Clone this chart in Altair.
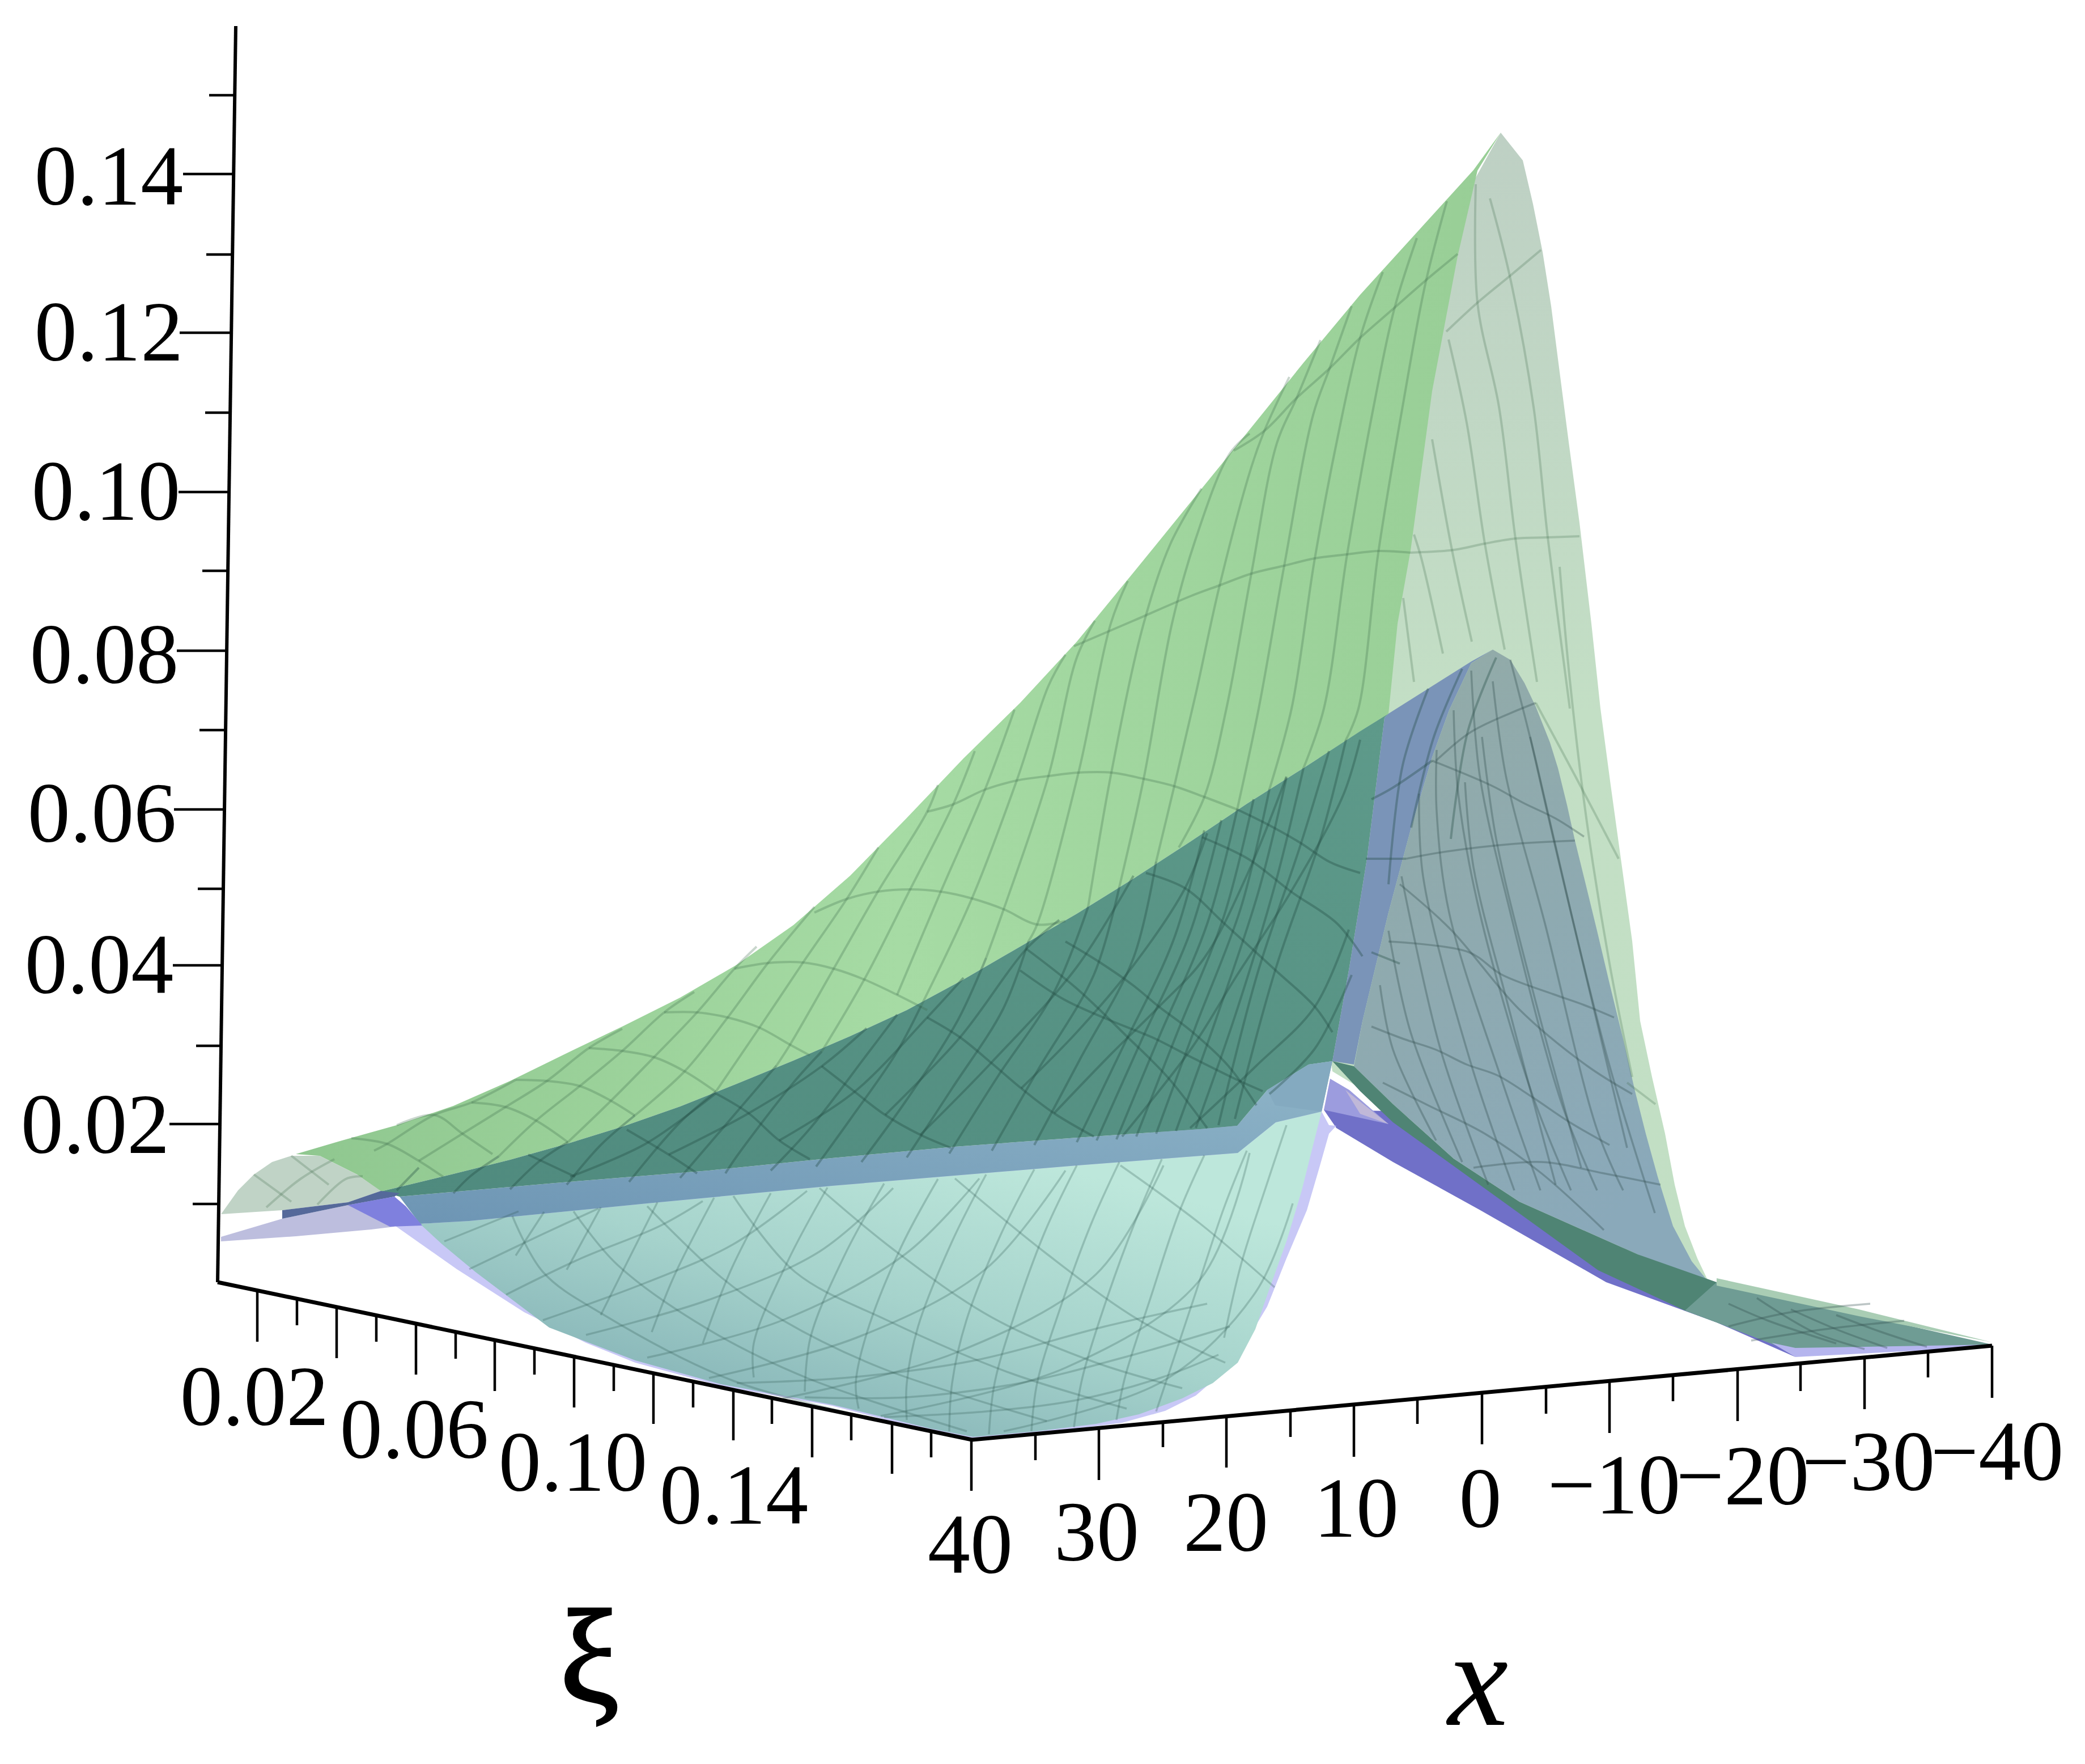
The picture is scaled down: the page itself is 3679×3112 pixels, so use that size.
import altair as alt
import pandas as pd

# ---------- axes (in picture units) ----------
z_axis = [(416, 46), (384, 2262)]
xi_axis = [(384, 2262), (1715, 2540)]
x_axis = [(1715, 2540), (3515, 2374)]

z_ticks = [(369, 413, 168), (323, 412, 307), (364, 410, 449), (317, 407, 587), (362, 405, 728),
           (315, 404, 868), (357, 402, 1007), (312, 400, 1148), (352, 399, 1288), (307, 397, 1428),
           (349, 395, 1568), (305, 393, 1703), (346, 390, 1845), (299, 389, 1983), (340, 386, 2124)]
xi_ticks = [(454, 2277, 2367), (524, 2291, 2338), (594, 2306, 2396), (664, 2320, 2367), (734, 2335, 2425),
            (804, 2350, 2397), (873, 2364, 2454), (943, 2379, 2425), (1013, 2393, 2483), (1083, 2408, 2454),
            (1153, 2423, 2512), (1223, 2437, 2483), (1294, 2452, 2541), (1362, 2466, 2512), (1433, 2481, 2571),
            (1502, 2496, 2541), (1574, 2511, 2600), (1643, 2525, 2571), (1714, 2540, 2630)]
x_ticks = [(1827, 2530, 2576), (1939, 2519, 2611), (2052, 2509, 2553), (2164, 2499, 2589), (2277, 2488, 2535),
           (2389, 2478, 2570), (2501, 2468, 2512), (2615, 2457, 2548), (2728, 2447, 2494), (2840, 2436, 2528),
           (2952, 2426, 2472), (3066, 2415, 2507), (3177, 2405, 2454), (3290, 2395, 2486), (3402, 2385, 2430),
           (3515, 2374, 2466)]

z_labels = [("0.14", 192, 361), ("0.12", 192, 636), ("0.10", 187, 917), ("0.08", 184, 1205),
            ("0.06", 180, 1485), ("0.04", 175, 1752), ("0.02", 168, 2034)]
xi_labels = [("0.02", 449, 2514), ("0.06", 731, 2572), ("0.10", 1011, 2630), ("0.14", 1295, 2688)]
x_labels = [("40", 1712, 2775), ("30", 1935, 2753), ("20", 2163, 2736), ("10", 2393, 2711), ("0", 2612, 2694),
            ("\u221210", 2848, 2670), ("\u221220", 3075, 2654), ("\u221230", 3297, 2629), ("\u221240", 3524, 2611)]
xi_title = [("\u03be", 1040, 3002)]
x_title = [("x", 2608, 3043)]

# ---------- surface regions ----------
upper_edge = [(522, 2036), (600, 2013), (700, 1985), (800, 1951), (900, 1907), (1000, 1858), (1100, 1810), (1200, 1760),
              (1300, 1702), (1400, 1632), (1500, 1545), (1600, 1443), (1700, 1338), (1800, 1240), (1900, 1132),
              (2000, 1010), (2100, 887), (2200, 764), (2300, 640), (2400, 520), (2500, 410), (2600, 300), (2648, 234)]
fold_edge = [(2607, 301), (2572, 452), (2527, 690), (2489, 971), (2466, 1100), (2450, 1259)]
dark_top = [(2450, 1259), (2400, 1290), (2300, 1355), (2200, 1418), (2100, 1485), (2000, 1550), (1900, 1612), (1800, 1670),
            (1700, 1728), (1600, 1782), (1500, 1828), (1400, 1871), (1300, 1912), (1200, 1952), (1100, 1987),
            (1000, 2018), (900, 2046), (800, 2071), (672, 2102)]
pale_green = [(2648, 234), (2687, 283), (2705, 360), (2722, 445), (2737, 540), (2750, 641), (2768, 780), (2787, 922),
              (2808, 1100), (2824, 1250), (2842, 1385), (2860, 1515), (2880, 1660), (2894, 1801), (2915, 1900),
              (2938, 2000), (2955, 2090), (2973, 2163), (2995, 2220), (3015, 2262), (3042, 2280), (3010, 2290),
              (2351, 1890), (2300, 1500), (2400, 900), (2500, 500)]
sat_green = upper_edge + fold_edge + dark_top + [(630, 2072), (564, 2039)]
pale_left = [(390, 2142), (420, 2100), (448, 2072), (480, 2050), (514, 2039), (564, 2039), (630, 2072), (672, 2101),
             (614, 2121), (498, 2135)]
lav_left = [(390, 2190), (390, 2182), (498, 2150), (614, 2126), (688, 2111), (696, 2164), (655, 2169), (522, 2181)]
purple_left = [(614, 2126), (696, 2111), (716, 2128), (745, 2162), (688, 2164)]
dark_band_left = [(498, 2135), (614, 2121), (672, 2101), (705, 2105), (696, 2111), (614, 2126), (498, 2150)]
lavender = [(698, 2163), (740, 2160), (2332, 1961), (2345, 1985), (2358, 1986), (2345, 2000), (2328, 2060), (2306, 2135),
            (2270, 2220), (2236, 2305), (2200, 2365), (2153, 2425), (2110, 2462), (2056, 2489), (1980, 2510),
            (1902, 2520), (1820, 2528), (1717, 2538), (1641, 2525), (1468, 2480), (1272, 2445), (1121, 2404),
            (1034, 2369), (925, 2315), (806, 2239)]
light_teal = [(741, 2159), (828, 2154), (1142, 2123), (1468, 2092), (1901, 2056), (2184, 2034), (2251, 1980),
              (2332, 1961), (2312, 2040), (2297, 2100), (2270, 2190), (2238, 2279), (2215, 2345), (2184, 2404),
              (2140, 2440), (2086, 2467), (2010, 2495), (1934, 2512), (1830, 2525), (1717, 2535), (1641, 2520),
              (1468, 2478), (1272, 2442), (1121, 2400), (969, 2342), (839, 2244), (780, 2195)]
blue_strip = [(705, 2111), (980, 2087), (1251, 2065), (1468, 2043), (1685, 2023), (1901, 2007), (2118, 1992),
              (2183, 1986), (2236, 1923), (2309, 1878), (2351, 1872), (2332, 1961), (2251, 1980), (2184, 2034),
              (1901, 2056), (1468, 2092), (1142, 2123), (828, 2154), (741, 2159)]
dark_teal = dark_top[::-1] + [(2443, 1266), (2412, 1515), (2381, 1706), (2351, 1872), (2309, 1878), (2236, 1923),
                              (2183, 1986), (2118, 1992), (1901, 2007), (1685, 2023), (1468, 2043), (1251, 2065),
                              (980, 2087), (705, 2111)]
blue_band = [(2450, 1259), (2596, 1167), (2634, 1146), (2596, 1170), (2557, 1253), (2527, 1336), (2489, 1464),
             (2450, 1610), (2404, 1802), (2389, 1878), (2351, 1872), (2381, 1706), (2412, 1515), (2443, 1266)]
gray_teal = [(2634, 1146), (2665, 1164), (2690, 1205), (2710, 1247), (2735, 1310), (2749, 1355), (2765, 1420), (2779, 1483),
             (2798, 1560), (2818, 1642), (2840, 1735), (2864, 1833), (2885, 1925), (2904, 2000), (2925, 2076),
             (2952, 2163), (2985, 2225), (3015, 2262), (3029, 2270), (2890, 2213), (2681, 2120), (2565, 2044),
             (2458, 1948), (2389, 1881), (2404, 1802), (2450, 1610), (2489, 1464), (2527, 1336), (2557, 1253),
             (2596, 1170)]
tail_purple = [(2336, 1958), (2450, 1960), (2565, 2045), (2680, 2125), (2820, 2225), (2973, 2300), (3126, 2360),
               (3168, 2394), (3029, 2333), (2834, 2262), (2612, 2135), (2458, 2050), (2358, 1990)]
tail_mid = [(2347, 1903), (2381, 1923), (2450, 1983), (2336, 1958)]
tail_pale = [(2374, 1923), (2450, 1983), (2400, 1965)]
tail_green = [(2351, 1872), (2389, 1881), (2458, 1948), (2565, 2044), (2681, 2120), (2890, 2213), (3029, 2262),
              (3060, 2300), (3126, 2369), (2973, 2312), (2820, 2241), (2680, 2140), (2565, 2057), (2458, 1980),
              (2400, 1925)]
tail_flat = [(3029, 2262), (3515, 2372), (3168, 2387), (3029, 2333), (2973, 2312)]
tail_lav = [(3126, 2369), (3168, 2378), (3515, 2372), (3515, 2376), (3168, 2394)]
tail_rim = [(3029, 2255), (3280, 2310), (3515, 2368), (3280, 2322), (3029, 2268)]
triangle_top = [(2309, 1878), (2351, 1872), (2332, 1961), (2250, 1950), (2236, 1923)]

# ---------- mesh lines ----------
mesh_green = [
    [(1895, 1140), (2000, 1095), (2100, 1052), (2151, 1033), (2208, 1012), (2266, 998), (2320, 985), (2377, 978), (2432, 972), (2489, 975)],
    [(1636, 1432), (1682, 1419), (1738, 1393), (1794, 1377), (1850, 1369), (1903, 1363), (1961, 1363), (2018, 1374), (2072, 1387), (2125, 1406), (2183, 1428)],
    [(1437, 1610), (1494, 1586), (1549, 1573), (1606, 1569), (1660, 1573), (1715, 1585), (1771, 1604), (1830, 1631), (1880, 1625)],
    [(1296, 1709), (1355, 1699), (1417, 1698), (1471, 1709), (1525, 1728), (1583, 1755), (1636, 1782)],
    [(1172, 1786), (1230, 1786), (1284, 1795), (1340, 1813), (1394, 1843), (1429, 1862)],
    [(1039, 1849), (1098, 1854), (1154, 1865), (1208, 1890), (1263, 1926)],
    [(910, 1905), (965, 1907), (1023, 1916), (1078, 1942), (1120, 1968)],
    [(832, 1945), (892, 1953), (946, 1977), (1002, 2015)],
    [(700, 1985), (766, 1967), (816, 2000), (869, 2036)],
    [(620, 2008), (683, 2018), (739, 2048), (782, 2076)],
    [(2177, 795), (2231, 760), (2288, 702), (2346, 650), (2400, 596), (2457, 546), (2513, 497), (2572, 448)],
    [(2375, 1305), (2397, 1250), (2432, 975), (2476, 711), (2515, 501), (2553, 355)],
    [(2300, 1355), (2336, 1250), (2377, 978), (2425, 711), (2460, 546), (2500, 420)],
    [(2240, 1392), (2279, 1250), (2320, 985), (2361, 768), (2400, 596), (2440, 480)],
    [(2183, 1428), (2221, 1250), (2266, 998), (2317, 732), (2346, 650), (2385, 540)],
    [(2080, 1495), (2125, 1406), (2164, 1250), (2208, 1012), (2253, 782), (2288, 702), (2330, 600)],
    [(2040, 1520), (2072, 1387), (2110, 1224), (2152, 1033), (2208, 824), (2231, 760), (2275, 665)],
    [(1975, 1565), (2018, 1374), (2068, 1100), (2110, 950), (2170, 800), (2205, 765)],
    [(1920, 1600), (1961, 1363), (2018, 1100), (2065, 960), (2120, 862)],
    [(1815, 1660), (1830, 1631), (1903, 1363), (1960, 1100), (1990, 1025)],
    [(1740, 1690), (1771, 1604), (1850, 1369), (1900, 1160), (1932, 1095)],
    [(1625, 1775), (1715, 1585), (1794, 1377), (1850, 1210), (1880, 1155)],
    [(1583, 1755), (1660, 1573), (1738, 1393), (1790, 1252)],
    [(1450, 1855), (1525, 1728), (1606, 1569), (1682, 1419), (1720, 1325)],
    [(1370, 1880), (1394, 1843), (1471, 1709), (1549, 1573), (1636, 1432), (1655, 1385)],
    [(1263, 1926), (1340, 1813), (1417, 1698), (1494, 1586), (1550, 1495)],
    [(1120, 1968), (1208, 1890), (1284, 1795), (1355, 1699), (1437, 1600)],
    [(1002, 2015), (1078, 1942), (1154, 1865), (1230, 1786), (1296, 1709), (1335, 1670)],
    [(880, 2040), (946, 1977), (1023, 1916), (1098, 1854), (1172, 1786), (1225, 1750)],
    [(739, 2048), (816, 2000), (892, 1953), (965, 1907), (1039, 1849), (1098, 1815)],
    [(660, 2030), (683, 2018), (766, 1967), (832, 1945), (910, 1905)],
]
mesh_pale = [
    [(2489, 975), (2566, 970), (2620, 959), (2674, 950), (2731, 948), (2787, 946)],
    [(2552, 585), (2607, 534), (2664, 487), (2719, 441)],
    [(2629, 350), (2664, 487), (2706, 718), (2731, 948), (2770, 1250)],
    [(2604, 325), (2607, 534), (2645, 718), (2674, 950), (2712, 1203)],
    [(2556, 599), (2588, 746), (2620, 959), (2655, 1146)],
    [(2527, 775), (2562, 970), (2597, 1132)],
    [(2495, 943), (2508, 985), (2546, 1153)],
    [(2476, 1055), (2495, 1203)],
    [(2752, 1000), (2770, 1200), (2800, 1450), (2840, 1700), (2880, 1900)],
    [(2710, 1240), (2780, 1370), (2856, 1515)],
    [(448, 2072), (514, 2120)], [(514, 2039), (580, 2090)], [(470, 2130), (530, 2080), (590, 2045)],
    [(560, 2125), (610, 2080), (640, 2075)],
    [(2871, 1910), (2921, 1948)],
]
mesh_dark = [
    [(2375, 1305), (2330, 1480), (2250, 1712), (2179, 1974)],
    [(2345, 1325), (2295, 1490), (2218, 1720), (2150, 1985)],
    [(2300, 1355), (2250, 1560), (2180, 1790), (2110, 1990)],
    [(2270, 1372), (2220, 1575), (2145, 1800), (2075, 1995)],
    [(2240, 1392), (2190, 1600), (2110, 1810), (2040, 2000)],
    [(2212, 1410), (2160, 1615), (2078, 1820), (2005, 2005)],
    [(2183, 1428), (2130, 1630), (2045, 1830), (1970, 2010)],
    [(2155, 1447), (2100, 1645), (2012, 1840), (1935, 2012)],
    [(2125, 1465), (2070, 1660), (1980, 1850), (1900, 2015)],
    [(2040, 1520), (2000, 1690), (1905, 1870), (1825, 2020)],
    [(1975, 1565), (1930, 1720), (1830, 1890), (1750, 2030)],
    [(1920, 1600), (1860, 1750), (1760, 1900), (1675, 2035)],
    [(1815, 1660), (1770, 1780), (1680, 1920), (1600, 2042)],
    [(1740, 1690), (1690, 1800), (1600, 1940), (1520, 2050)],
    [(1625, 1775), (1580, 1860), (1500, 1975), (1440, 2058)],
    [(1583, 1790), (1530, 1860), (1430, 1990), (1360, 2065)],
    [(1450, 1855), (1400, 1910), (1300, 2040), (1280, 2070)],
    [(1370, 1880), (1310, 1950), (1200, 2078)],
    [(1263, 1926), (1200, 1980), (1110, 2085)],
    [(1120, 1968), (1060, 2020), (1000, 2090)],
    [(1002, 2015), (950, 2050), (900, 2098)],
    [(880, 2040), (830, 2075), (800, 2105)],
    [(739, 2060), (700, 2100)],
    [(2183, 1428), (2236, 1454), (2293, 1486), (2347, 1521), (2400, 1540)],
    [(1880, 1661), (1938, 1696), (1999, 1738), (2045, 1776), (2102, 1819), (2167, 1880), (2217, 1950)],
    [(2022, 1540), (2091, 1567), (2160, 1629), (2251, 1712), (2320, 1776), (2351, 1821)],
    [(2121, 1477), (2202, 1515), (2278, 1573), (2359, 1629), (2404, 1687)],
    [(1800, 1712), (1877, 1763), (1961, 1801), (2033, 1830), (2102, 1865), (2183, 1905), (2228, 1925)],
    [(1636, 1795), (1694, 1830), (1749, 1875), (1802, 1920), (1860, 1964), (1930, 2005)],
    [(1450, 1881), (1508, 1926), (1562, 1967), (1624, 2002), (1678, 2025)],
    [(1263, 1929), (1321, 1964), (1375, 2012), (1429, 2045)],
    [(1106, 1993), (1180, 2037), (1230, 2070)],
    [(932, 2037), (1015, 2076)],
    [(1811, 1674), (1900, 1744), (1990, 1830), (2060, 1900), (2130, 1990)],
    [(1375, 2012), (1508, 1926), (1636, 1795), (1700, 1725)],
    [(1180, 2037), (1321, 1964), (1450, 1881), (1529, 1814)],
    [(1006, 2076), (1139, 2018), (1263, 1929)],
    [(1562, 1967), (1694, 1830), (1811, 1674), (1869, 1623)],
    [(1624, 2002), (1749, 1875), (1900, 1706), (2000, 1545)],
    [(1802, 1920), (1900, 1821), (2000, 1703), (2091, 1567), (2130, 1470)],
    [(1860, 1964), (1960, 1860), (2045, 1776), (2125, 1690), (2202, 1540), (2270, 1370)],
    [(1980, 2005), (2102, 1850), (2183, 1720), (2278, 1573), (2370, 1403), (2400, 1305)],
    [(2100, 1990), (2217, 1880), (2320, 1776), (2380, 1640)],
    [(2240, 1930), (2320, 1850), (2385, 1720)],
    [(2527, 1342), (2457, 1390), (2420, 1410)],
    [(2640, 1160), (2590, 1290), (2560, 1480)],
    [(2580, 1180), (2530, 1300), (2490, 1460)],
    [(2520, 1215), (2475, 1350), (2450, 1560)],
    [(2420, 1680), (2470, 1700)],
    [(2410, 1515), (2481, 1515)],
]
mesh_gray = [
    [(2665, 1164), (2710, 1342), (2772, 1610), (2871, 2025)],
    [(2634, 1202), (2657, 1368), (2726, 1629), (2818, 1993), (2864, 2100)],
    [(2596, 1183), (2611, 1368), (2665, 1610), (2756, 1948), (2818, 2100)],
    [(2565, 1253), (2573, 1400), (2611, 1610), (2703, 1929), (2772, 2100)],
    [(2535, 1323), (2535, 1432), (2557, 1610), (2649, 1903), (2718, 2100)],
    [(2504, 1400), (2511, 1546), (2596, 1878), (2672, 2100)],
    [(2473, 1546), (2542, 1852), (2626, 2090)],
    [(2450, 1642), (2489, 1821), (2580, 2050)],
    [(2435, 1738), (2458, 1852), (2534, 2012)],
    [(2700, 1300), (2760, 1560), (2840, 1880), (2920, 2140)],
    [(2615, 1300), (2640, 1480), (2700, 1730), (2790, 2060)],
    [(2585, 1380), (2600, 1530), (2660, 1770), (2745, 2090)],
    [(2527, 1342), (2634, 1387), (2687, 1416), (2745, 1444), (2795, 1476)],
    [(2481, 1515), (2554, 1502), (2668, 1489), (2779, 1483)],
    [(2534, 1342), (2596, 1291), (2710, 1240)],
    [(2450, 1661), (2592, 1680), (2649, 1719), (2741, 1754), (2795, 1773), (2848, 1795)],
    [(2420, 1811), (2477, 1833), (2534, 1852), (2588, 1878), (2642, 1897), (2703, 1935), (2770, 1980), (2840, 2020)],
    [(2440, 1910), (2520, 1950), (2620, 2000), (2720, 2070), (2830, 2170)],
    [(2470, 1560), (2560, 1640), (2680, 1780), (2800, 1880), (2880, 1930)],
    [(2600, 2060), (2720, 2050), (2830, 2070), (2930, 2090)],
    [(3050, 2300), (3120, 2330), (3240, 2370)], [(3100, 2290), (3200, 2350), (3290, 2380)],
    [(3160, 2310), (3240, 2345), (3330, 2378)], [(3240, 2320), (3320, 2350), (3400, 2376)],
    [(3050, 2340), (3160, 2315), (3300, 2300)], [(3090, 2365), (3220, 2345), (3360, 2330)],
]
mesh_light = [
    [(1977, 2056), (2118, 2159), (2249, 2271)],
    [(1685, 2079), (1847, 2212), (2010, 2329), (2162, 2404)],
    [(1446, 2096), (1576, 2204), (1750, 2324), (1934, 2404), (2086, 2449)],
    [(1294, 2110), (1403, 2244), (1565, 2329), (1782, 2422), (1988, 2485)],
    [(1142, 2128), (1272, 2253), (1381, 2329), (1554, 2413), (1847, 2507)],
    [(1012, 2137), (1088, 2230), (1251, 2346), (1424, 2431), (1706, 2525)],
    [(904, 2145), (958, 2244), (1066, 2320), (1294, 2436), (1544, 2503)],
    [(784, 2190), (915, 2137)],
    [(828, 2239), (958, 2177), (1056, 2132)],
    [(893, 2284), (1023, 2221), (1164, 2163), (1240, 2119)],
    [(958, 2329), (1142, 2262), (1294, 2195), (1424, 2101)],
    [(1034, 2355), (1251, 2293), (1446, 2208), (1576, 2096)],
    [(1142, 2395), (1381, 2329), (1598, 2212), (1728, 2079)],
    [(1251, 2431), (1511, 2360), (1739, 2239), (1880, 2065)],
    [(1381, 2467), (1685, 2387), (1934, 2248), (2053, 2056)],
    [(1554, 2498), (1880, 2413), (2118, 2257), (2205, 2034)],
    [(1771, 2525), (2053, 2436), (2216, 2279), (2281, 2123)],
    [(2200, 2030), (2160, 2130), (2110, 2280), (2060, 2430), (2040, 2490)],
    [(2125, 2038), (2080, 2140), (2030, 2290), (1985, 2430), (1970, 2505)],
    [(2050, 2045), (2005, 2150), (1950, 2300), (1910, 2430), (1895, 2518)],
    [(1975, 2050), (1925, 2160), (1870, 2310), (1830, 2440), (1820, 2525)],
    [(1900, 2056), (1845, 2170), (1790, 2320), (1755, 2440), (1745, 2530)],
    [(1825, 2063), (1765, 2180), (1705, 2330), (1680, 2440), (1675, 2525)],
    [(1740, 2072), (1680, 2190), (1620, 2340), (1600, 2440), (1600, 2505)],
    [(1655, 2080), (1590, 2200), (1530, 2350), (1510, 2440), (1515, 2485)],
    [(1560, 2088), (1490, 2215), (1430, 2360), (1420, 2455)],
    [(1460, 2095), (1390, 2225), (1330, 2370), (1330, 2430)],
    [(1360, 2105), (1290, 2240), (1240, 2370)],
    [(1260, 2113), (1190, 2250), (1150, 2350)],
    [(1160, 2121), (1095, 2250), (1060, 2320)],
    [(1060, 2130), (1000, 2240)],
    [(960, 2138), (910, 2215)],
    [(2270, 1985), (2235, 2090), (2190, 2230), (2160, 2360)],
    [(1300, 2440), (1500, 2430), (1720, 2400), (1950, 2340), (2130, 2300)],
    [(1420, 2465), (1600, 2465), (1800, 2440), (2000, 2390), (2170, 2340)],
    [(1560, 2500), (1740, 2490), (1900, 2470), (2050, 2430), (2150, 2390)],
]


def frame(pts):
    return pd.DataFrame({"x": [p[0] for p in pts], "y": [p[1] for p in pts], "i": range(len(pts))})


def frame_many(lines):
    rows = []
    for k, ln in enumerate(lines):
        for i, p in enumerate(ln):
            rows.append({"x": p[0], "y": p[1], "i": i, "k": k})
    return pd.DataFrame(rows)


X = alt.X("x:Q", scale=alt.Scale(domain=[8, 3671], nice=False, zero=False), axis=None)
Y = alt.Y("y:Q", scale=alt.Scale(domain=[8, 3104], nice=False, zero=False, reverse=True), axis=None)


def grad(colors, x1=0.0, y1=0.0, x2=1.0, y2=1.0):
    n = len(colors) - 1
    return alt.LinearGradient(gradient="linear", x1=x1, y1=y1, x2=x2, y2=y2,
                              stops=[alt.GradientStop(color=c, offset=j / n) for j, c in enumerate(colors)])


def poly(pts, fill):
    return alt.Chart(frame(pts)).mark_line(interpolate="linear-closed", fill=fill, strokeWidth=0, strokeOpacity=0).encode(
        x=X, y=Y, order="i:Q")


def mesh(lines, color, opacity, width):
    return alt.Chart(frame_many(lines)).mark_line(interpolate="catmull-rom", color=color, opacity=opacity,
                                                  strokeWidth=width).encode(x=X, y=Y, order="i:Q", detail="k:N")


def rules(rows, width):
    df = pd.DataFrame(rows, columns=["x", "y", "x2", "y2"])
    return alt.Chart(df).mark_rule(color="#000000", strokeWidth=width).encode(x=X, y=Y, x2="x2:Q", y2="y2:Q")


def texts(rows, size, style="normal", stroke=0):
    df = pd.DataFrame(rows, columns=["t", "x", "y"])
    return alt.Chart(df).mark_text(font="Liberation Serif", fontSize=size, fontStyle=style, color="#000000",
                                   stroke="#000000", strokeWidth=stroke, align="center",
                                   baseline="alphabetic").encode(x=X, y=Y, text="t:N")


layers = [
    poly(pale_green, grad(["#BED0C4", "#C3DFC5", "#C2DFC4"], 0, 0, 0, 1)),
    poly(sat_green, grad(["#8FC78F", "#A6DBA4", "#98CE96"], 0, 0, 1, 0)),
    poly(pale_left, "#C0D3C6"),
    poly(lav_left, "#BDBEDE"),
    poly(tail_purple, "#7070C8"),
    poly(tail_mid, "#9C9CDE"),
    poly(tail_pale, "#C0B8D8"),
    poly(lavender, "#C8C8F6"),
    poly(light_teal, grad(["#BDE7DB", "#A6D3CC", "#84B2B6"], 0.75, 0.2, 0.25, 0.9)),
    poly(blue_strip, grad(["#6D95B4", "#8FB5C8"], 0, 1, 1, 0)),
    poly(dark_teal, grad(["#4F8A7E", "#5E9A8A"], 0, 1, 1, 0)),
    poly(dark_band_left, "#55699A"),
    poly(purple_left, "#7F80DE"),
    poly(blue_band, "#7A94B8"),
    poly(gray_teal, grad(["#93ABA6", "#8AA9BA"], 0, 0, 0.5, 1)),
    poly(tail_green, "#4F8474"),
    poly(tail_flat, "#6F9C94"),
    poly(tail_rim, "#A9CDB4"),
    poly(tail_lav, "#B5B5EE"),
    poly(triangle_top, "#84AAC0"),
    mesh(mesh_green, "#3E6B4C", 0.28, 4),
    mesh(mesh_pale, "#3E6B4C", 0.25, 4),
    mesh(mesh_light, "#2F5A50", 0.26, 3.5),
    mesh(mesh_dark, "#1F4A40", 0.34, 4),
    mesh(mesh_gray, "#2F4A4A", 0.32, 3.5),
    rules([(*z_axis[0], *z_axis[1])], 6),
    rules([(*xi_axis[0], *xi_axis[1]), (*x_axis[0], *x_axis[1])], 7),
    rules([(a, y, b, y) for a, b, y in z_ticks], 4.5),
    rules([(x, a, x, b) for x, a, b in xi_ticks], 4.5),
    rules([(x, a, x, b) for x, a, b in x_ticks], 4.5),
    texts(z_labels, 150),
    texts(xi_labels, 150),
    texts(x_labels, 150),
    texts(xi_title, 235, stroke=4),
    texts(x_title, 240, "italic"),
]

chart = alt.layer(*layers).properties(width=3663, height=3096, padding=0, background="#ffffff",
                                      autosize=alt.AutoSizeParams(type="none")).configure_view(stroke=None)
chart.save("out.html", embed_options={"renderer": "svg", "actions": False})
